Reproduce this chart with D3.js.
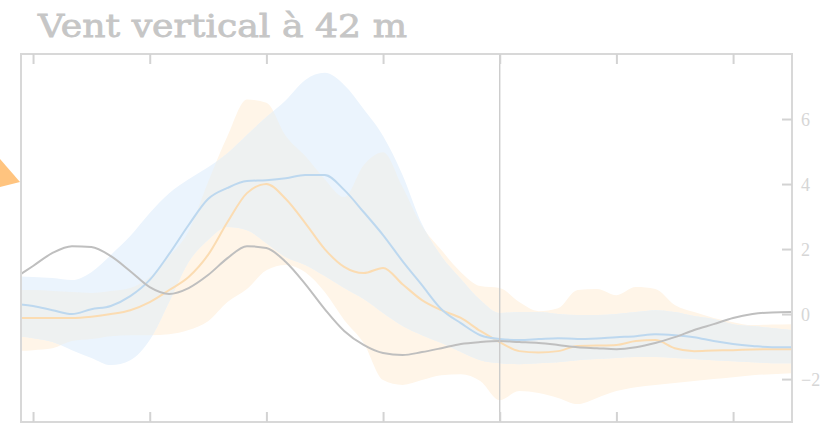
<!DOCTYPE html>
<html>
<head>
<meta charset="utf-8">
<script src="https://cdn.jsdelivr.net/npm/d3@7"></script>
<style>
  html, body { margin: 0; padding: 0; background: #ffffff; }
  svg { display: block; }
</style>
</head>
<body>
<svg id="chart" width="833" height="433"></svg>
<script>
// Hours since the start of the window (one sample per hour)
const hours = [-1, 0, 1, 2, 3, 4, 5, 6, 7, 8, 9, 10, 11, 12, 13, 14, 15, 16, 17, 18, 19,
  20, 21, 22, 23, 24, 25, 26, 27, 28, 29, 30, 31, 32, 33, 34, 35, 36, 37, 38, 39];

// Observed vertical wind (m/s)
const observed = [1.08, 1.48, 1.88, 2.09, 2.06, 1.78, 1.32, 0.83, 0.62, 0.80, 1.20, 1.72, 2.09,
  2.03, 1.60, 0.92, 0.15, -0.52, -0.95, -1.20, -1.26, -1.17, -1.05, -0.92, -0.86, -0.83, -0.86,
  -0.89, -0.95, -1.02, -1.05, -1.08, -1.02, -0.89, -0.71, -0.49, -0.31, -0.12, 0.0, 0.05, 0.06];

// Model A: median and spread
const blueMedian = [0.31, 0.25, 0.12, 0.0, 0.15, 0.25, 0.55, 1.05, 1.85, 2.74, 3.54, 3.88, 4.09,
  4.12, 4.18, 4.28, 4.28, 3.82, 3.14, 2.43, 1.63, 0.89, 0.15, -0.28, -0.65, -0.77, -0.80, -0.77,
  -0.74, -0.77, -0.75, -0.71, -0.68, -0.62, -0.65, -0.71, -0.83, -0.92, -0.98, -1.02, -1.02];
const blueHigh = [1.17, 1.14, 1.11, 1.05, 1.29, 1.82, 2.40, 3.11, 3.72, 4.15, 4.52, 4.95, 5.51,
  6.06, 6.58, 7.20, 7.42, 7.05, 6.31, 5.48, 4.28, 2.77, 1.78, 1.08, 0.43, 0.03, 0.06, 0.06, 0.0,
  -0.03, -0.03, 0.0, 0.06, 0.12, 0.06, -0.06, -0.15, -0.31, -0.37, -0.43, -0.49];
const blueLow = [-0.68, -0.74, -0.86, -1.11, -1.35, -1.57, -1.42, -0.80, 0.37, 1.60, 2.28, 2.68,
  2.58, 2.18, 1.75, 1.51, 1.17, 0.80, 0.46, 0.03, -0.37, -0.65, -0.89, -1.17, -1.42, -1.51, -1.54,
  -1.51, -1.48, -1.42, -1.38, -1.35, -1.32, -1.32, -1.35, -1.38, -1.42, -1.45, -1.48, -1.51, -1.51];

// Model B: median and spread
const orangeMedian = [-0.12, -0.12, -0.12, -0.12, -0.08, 0.0, 0.12, 0.37, 0.74, 1.14, 1.82, 2.83,
  3.72, 4.0, 3.54, 2.80, 2.0, 1.45, 1.26, 1.42, 0.92, 0.43, 0.12, -0.12, -0.52, -0.86, -1.14,
  -1.18, -1.14, -0.98, -0.97, -0.95, -0.83, -0.80, -1.05, -1.14, -1.12, -1.11, -1.09, -1.08, -1.08];
const orangeHigh = [0.74, 0.74, 0.71, 0.68, 0.65, 0.71, 0.80, 1.14, 1.78, 2.55, 4.06, 5.48, 6.60,
  6.50, 5.48, 4.86, 4.15, 3.60, 4.58, 4.98, 3.91, 2.71, 1.97, 1.29, 0.86, 0.80, 0.37, 0.09, 0.18,
  0.74, 0.77, 0.58, 0.83, 0.77, 0.28, 0.06, -0.12, -0.25, -0.34, -0.32, -0.31];
const orangeLow = [-1.14, -1.11, -1.05, -0.83, -0.77, -0.68, -0.65, -0.65, -0.62, -0.49, -0.22,
  0.37, 0.77, 1.35, 1.51, 1.29, 0.68, -0.18, -0.89, -2.03, -2.18, -2.03, -1.88, -1.85, -2.06,
  -2.65, -2.37, -2.43, -2.58, -2.77, -2.58, -2.37, -2.25, -2.18, -2.12, -2.06, -2.0, -1.94, -1.88,
  -1.85, -1.82];

// Axis ticks and the reference time marker
const xTicks = [0, 6, 12, 18, 24, 30, 36];
const yTicks = [-2, 0, 2, 4, 6];
const nowHour = 24;
const title = "Vent vertical à 42 m";

const svg = d3.select("#chart");
const frame = { left: 21, right: 792, top: 54, bottom: 422 };

const x = d3.scaleLinear().domain([-0.62, 39.03]).range([frame.left, frame.right]);
const y = d3.scaleLinear().domain([-3.32, 8]).range([frame.bottom, frame.top]);

const rows = hours.map((h, i) => ({
  h,
  obs: observed[i],
  bm: blueMedian[i], bh: blueHigh[i], bl: blueLow[i],
  om: orangeMedian[i], oh: orangeHigh[i], ol: orangeLow[i]
}));

const defs = svg.append("defs");
defs.append("clipPath").attr("id", "plot-clip")
  .append("rect")
  .attr("x", frame.left).attr("y", frame.top)
  .attr("width", frame.right - frame.left).attr("height", frame.bottom - frame.top);

const curve = d3.curveMonotoneX;
const bandArea = (hi, lo) => d3.area().curve(curve)
  .x(d => x(d.h)).y0(d => y(d[lo])).y1(d => y(d[hi]));
const lineOf = key => d3.line().curve(curve).x(d => x(d.h)).y(d => y(d[key]));

// Orange spread shape, reused as the clip for the overlap of both spreads
defs.append("clipPath").attr("id", "orange-clip")
  .append("path").attr("d", bandArea("oh", "ol")(rows));

const plot = svg.append("g").attr("clip-path", "url(#plot-clip)");

plot.append("path").attr("d", bandArea("oh", "ol")(rows)).attr("fill", "#fff5e8");
plot.append("path").attr("d", bandArea("bh", "bl")(rows)).attr("fill", "#ebf4fd");
plot.append("g").attr("clip-path", "url(#orange-clip)")
  .append("path").attr("d", bandArea("bh", "bl")(rows)).attr("fill", "#eef1f1");

plot.append("path").attr("d", lineOf("om")(rows))
  .attr("fill", "none").attr("stroke", "#fbdcb2").attr("stroke-width", 2);
plot.append("path").attr("d", lineOf("bm")(rows))
  .attr("fill", "none").attr("stroke", "#bdd8ef").attr("stroke-width", 2);
plot.append("path").attr("d", lineOf("obs")(rows))
  .attr("fill", "none").attr("stroke", "#bfbfbf").attr("stroke-width", 2);

// Marker for the current time
svg.append("line")
  .attr("x1", x(nowHour)).attr("x2", x(nowHour))
  .attr("y1", frame.top).attr("y2", frame.bottom)
  .attr("stroke", "#c9c9c9").attr("stroke-width", 1.3);

// Frame
svg.append("rect")
  .attr("x", frame.left).attr("y", frame.top)
  .attr("width", frame.right - frame.left).attr("height", frame.bottom - frame.top)
  .attr("fill", "none").attr("stroke", "#d8d8d8").attr("stroke-width", 2);

// Inward ticks on top and bottom edges
const tickColor = "#d3d3d3";
const topAxis = d3.axisBottom(x).tickValues(xTicks).tickSize(10).tickFormat("");
const bottomAxis = d3.axisTop(x).tickValues(xTicks).tickSize(10).tickFormat("");
const styleAxis = g => {
  g.select(".domain").remove();
  g.selectAll(".tick line").attr("stroke", tickColor).attr("stroke-width", 2);
};
svg.append("g").attr("transform", `translate(0,${frame.top})`).call(topAxis).call(styleAxis);
svg.append("g").attr("transform", `translate(0,${frame.bottom})`).call(bottomAxis).call(styleAxis);

// Right axis: inward ticks, labels outside
const rightAxis = d3.axisLeft(y).tickValues(yTicks).tickSize(10)
  .tickFormat(d => d < 0 ? "\u2212" + Math.abs(d) : String(d));
const ra = svg.append("g").attr("transform", `translate(${frame.right},0)`).call(rightAxis);
ra.select(".domain").remove();
ra.selectAll(".tick line").attr("stroke", tickColor).attr("stroke-width", 2);
ra.selectAll(".tick text")
  .attr("x", 9).attr("text-anchor", "start").attr("dy", "0.34em")
  .attr("fill", "#d6d6d6")
  .style("font-family", "'Liberation Serif', 'DejaVu Serif', serif")
  .style("font-size", "18px");

// Pointer on the left margin
svg.append("path")
  .attr("d", d3.line()([[0, 159], [20, 182], [0, 187]]) + "Z")
  .attr("fill", "#ffc47f");

// Title (a thin matching stroke gives it a semibold look)
svg.append("text")
  .attr("x", 38).attr("y", 37)
  .attr("fill", "#c6c6c6")
  .attr("stroke", "#c6c6c6")
  .attr("stroke-width", 0.8)
  .attr("textLength", 369)
  .attr("lengthAdjust", "spacingAndGlyphs")
  .style("font-family", "'DejaVu Serif', 'Liberation Serif', serif")
  .style("font-weight", "normal")
  .style("font-size", "32px")
  .text(title);
</script>
</body>
</html>
